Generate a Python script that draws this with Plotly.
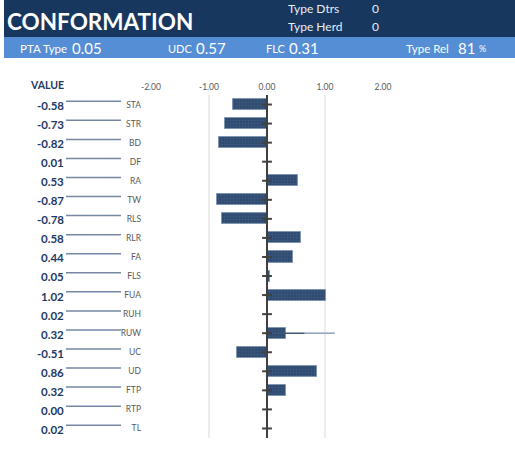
import plotly.graph_objects as go

# conformation traits, top to bottom
traits = ["STA", "STR", "BD", "DF", "RA", "TW", "RLS", "RLR", "FA", "FLS",
          "FUA", "RUH", "RUW", "UC", "UD", "FTP", "RTP", "TL"]
values = [-0.58, -0.73, -0.82, 0.01, 0.53, -0.87, -0.78, 0.58, 0.44, 0.05,
          1.02, 0.02, 0.32, -0.51, 0.86, 0.32, 0.00, 0.02]
value_labels = ["-0.58", "-0.73", "-0.82", "0.01", "0.53", "-0.87", "-0.78", "0.58", "0.44", "0.05",
                "1.02", "0.02", "0.32", "-0.51", "0.86", "0.32", "0.00", "0.02"]
x_ticks = [-2, -1, 0, 1, 2]
grid_vals = [-1, 1]

# stray line on the RUW row
ruw_line_dark = [0, 0.65]
ruw_line_light = [0.65, 1.17]

# header figures
type_dtrs = "0"
type_herd = "0"
pta_type = "0.05"
udc = "0.57"
flc = "0.31"
type_rel = "81"

W, H = 515, 452
ML, MR, MT, MB = 151, 132, 95, 14
PW = W - ML - MR
PH = H - MT - MB


def px_x(p):
    return (p - ML) / PW


def px_y(p):
    return (H - MB - p) / PH


ys = list(range(len(traits)))
FONT = "Lato"
NAVY = "#17375e"

fig = go.Figure()

fig.add_trace(go.Bar(
    x=values, y=ys, orientation="h", width=0.58,
    marker=dict(color="#34507a",
                line=dict(color="#8095b2", width=1),
                pattern=dict(shape=".", fgcolor="#4f6a8f", bgcolor="#2f4a70",
                             size=3, solidity=0.3)),
    hoverinfo="x+y", showlegend=False))

ruw = traits.index("RUW")
fig.add_trace(go.Scatter(x=ruw_line_dark, y=[ruw] * 2, mode="lines",
                         line=dict(color="#3e5677", width=1.5), showlegend=False, hoverinfo="skip"))
fig.add_trace(go.Scatter(x=ruw_line_light, y=[ruw] * 2, mode="lines",
                         line=dict(color="#8fa2bb", width=1.5), showlegend=False, hoverinfo="skip"))

# tick marks on the zero axis
fig.add_trace(go.Scatter(x=[0] * len(ys), y=ys, mode="markers",
                         marker=dict(symbol="line-ew", size=7, line=dict(color="#404040", width=2)),
                         showlegend=False, hoverinfo="skip"))

shapes = []
for g in grid_vals:
    shapes.append(dict(type="line", xref="x", yref="paper", x0=g, x1=g, y0=0, y1=1,
                       line=dict(color="#d9d9d9", width=1), layer="below"))
shapes.append(dict(type="line", xref="x", yref="paper", x0=0, x1=0, y0=0, y1=1,
                   line=dict(color="#404040", width=2), layer="above"))
for i in ys:
    shapes.append(dict(type="line", xref="paper", yref="y", x0=px_x(66), x1=px_x(121),
                       y0=i - 0.17, y1=i - 0.17, line=dict(color="#7587a3", width=1.5)))

# header bands
shapes.append(dict(type="rect", xref="paper", yref="paper", x0=px_x(4), x1=px_x(515),
                   y0=px_y(37), y1=px_y(0), fillcolor=NAVY, line=dict(width=0), layer="below"))
shapes.append(dict(type="rect", xref="paper", yref="paper", x0=px_x(4), x1=px_x(515),
                   y0=px_y(58), y1=px_y(37), fillcolor="#558ed5", line=dict(width=0), layer="below"))

annotations = []


def text(s, x, y, size, color="white", bold=False, anchor="left"):
    annotations.append(dict(text="<b>%s</b>" % s if bold else s, xref="paper", yref="paper",
                            x=px_x(x), y=px_y(y), xanchor=anchor, yanchor="middle",
                            showarrow=False, font=dict(family=FONT, size=size, color=color)))


text("CONFORMATION", 5, 21, 22.5, bold=True)
text("Type Dtrs", 286, 8, 12, color="#e8eef6")
text(type_dtrs, 370, 8, 12, color="#e8eef6")
text("Type Herd", 286, 27, 12, color="#e8eef6")
text(type_herd, 370, 27, 12, color="#e8eef6")
text("PTA Type", 18, 49, 11.5)
text(pta_type, 70, 48, 15)
text("UDC", 166, 49, 11)
text(udc, 194, 48, 15)
text("FLC", 264, 49, 11)
text(flc, 287, 48, 15)
text("Type Rel", 404, 49, 11.5)
text(type_rel, 456, 48, 15)
text("%", 477, 49, 9)
text("VALUE", 66, 85, 10.5, color="#1f3864", bold=True, anchor="right")

for i, lab in zip(ys, value_labels):
    annotations.append(dict(text="<b>%s</b>" % lab, xref="paper", yref="y", x=px_x(66), y=i + 0.05,
                            xanchor="right", yanchor="middle", showarrow=False,
                            font=dict(family=FONT, size=11.5, color="#1f3864")))

fig.update_layout(
    width=W, height=H,
    margin=dict(l=ML, r=MR, t=MT, b=MB),
    paper_bgcolor="white", plot_bgcolor="white",
    font=dict(family=FONT, color="#595959"),
    bargap=0,
    shapes=shapes,
    annotations=annotations,
    xaxis=dict(range=[-2, 2], side="top", tickvals=x_ticks,
               ticktext=["%.2f" % v for v in x_ticks], showgrid=False, zeroline=False,
               showline=False, ticks="", tickfont=dict(size=8.5, color="#595959"),
               ticklabelstandoff=2, fixedrange=True),
    yaxis=dict(range=[len(traits) - 0.5, -0.5], tickvals=ys, ticktext=traits,
               showgrid=False, zeroline=False, showline=False, ticks="",
               tickfont=dict(size=8.5, color="#595959"), ticklabelstandoff=9,
               fixedrange=True),
)

# drop the page's default body margin so the figure sits at the window's corner
fig.write_html("out.html", config={"displayModeBar": False},
               post_script="document.body.style.margin='0';")
